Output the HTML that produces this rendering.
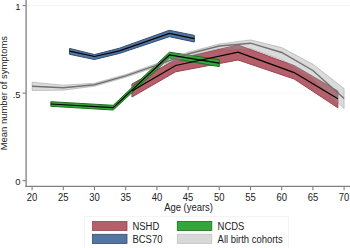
<!DOCTYPE html>
<html><head><meta charset="utf-8"><style>
html,body{margin:0;padding:0;background:#fff;}
svg{display:block;}
.t{font-family:"Liberation Sans",sans-serif;font-size:9.45px;fill:#222;}
</style></head><body>
<svg width="350" height="248" viewBox="0 0 350 248">
<line x1="26.5" y1="93.10" x2="350" y2="93.10" stroke="#fafafa" stroke-width="1"/>
<line x1="26.5" y1="5.60" x2="350" y2="5.60" stroke="#f6f6f6" stroke-width="1"/>
<polygon points="131.94,84.00 175.62,59.50 238.02,45.00 294.18,65.60 337.86,91.00 337.86,107.80 294.18,79.00 238.02,60.00 175.62,71.80 131.94,97.00" fill="#b45f6a" fill-opacity="1.0" stroke="#974450" stroke-opacity="1.0" stroke-width="1.0" stroke-linejoin="miter"/>
<polygon points="50.82,101.70 113.22,105.30 169.38,52.20 219.30,59.70 219.30,66.60 169.38,58.00 113.22,110.00 50.82,106.30" fill="#36a53a" fill-opacity="1.0" stroke="#1c6e20" stroke-opacity="1.0" stroke-width="1.0" stroke-linejoin="miter"/>
<polygon points="69.54,48.40 94.50,54.60 119.46,48.20 169.38,30.30 194.34,35.40 194.34,42.00 169.38,36.70 119.46,53.40 94.50,59.50 69.54,54.30" fill="#52769f" fill-opacity="1.0" stroke="#304d72" stroke-opacity="1.0" stroke-width="1.0" stroke-linejoin="miter"/>
<polygon points="32.10,82.20 63.30,85.20 94.50,83.20 125.70,74.50 156.90,63.60 188.10,52.20 219.30,44.00 250.50,39.90 281.70,47.60 312.90,64.20 344.10,88.60 344.10,108.60 312.90,78.50 281.70,59.50 250.50,48.70 219.30,48.70 188.10,56.50 156.90,66.60 125.70,77.30 94.50,86.20 63.30,90.20 32.10,90.50" fill="#9a9a9a" fill-opacity="0.36" stroke="#8a8a8a" stroke-opacity="0.55" stroke-width="0.8" stroke-linejoin="miter"/>
<polyline points="131.94,91.00 175.62,65.50 238.02,52.10 294.18,72.60 337.86,98.80" fill="none" stroke="#000" stroke-width="1.2" stroke-linejoin="miter"/>
<polyline points="32.10,86.30 63.30,87.80 94.50,84.70 125.70,75.90 156.90,65.10 188.10,54.00 219.30,46.00 250.50,43.20 281.70,52.50 312.90,70.50 344.10,98.60" fill="none" stroke="#727272" stroke-width="1.4" stroke-linejoin="miter"/>
<polyline points="69.54,51.20 94.50,56.50 119.46,50.80 169.38,33.40 194.34,38.60" fill="none" stroke="#000" stroke-width="1.2" stroke-linejoin="miter"/>
<polyline points="50.82,104.00 113.22,107.60 169.38,55.00 219.30,63.20" fill="none" stroke="#000" stroke-width="1.2" stroke-linejoin="miter"/>
<line x1="26.1" y1="0" x2="26.1" y2="187.05" stroke="#808080" stroke-width="1.3"/>
<line x1="25.45" y1="186.4" x2="350" y2="186.4" stroke="#808080" stroke-width="1.3"/>
<line x1="22.5" y1="180.60" x2="26" y2="180.60" stroke="#808080" stroke-width="1.1"/>
<text transform="translate(20.60,185.30) scale(1,1.04)" text-anchor="end" class="t">0</text>
<line x1="22.5" y1="93.10" x2="26" y2="93.10" stroke="#808080" stroke-width="1.1"/>
<text transform="translate(20.60,97.80) scale(1,1.04)" text-anchor="end" class="t">.5</text>
<line x1="22.5" y1="5.60" x2="26" y2="5.60" stroke="#808080" stroke-width="1.1"/>
<text transform="translate(20.60,10.30) scale(1,1.04)" text-anchor="end" class="t">1</text>
<line x1="32.10" y1="186.5" x2="32.10" y2="190.3" stroke="#808080" stroke-width="1.1"/>
<text transform="translate(32.10,201.30) scale(1,1.08)" text-anchor="middle" class="t">20</text>
<line x1="63.30" y1="186.5" x2="63.30" y2="190.3" stroke="#808080" stroke-width="1.1"/>
<text transform="translate(63.30,201.30) scale(1,1.08)" text-anchor="middle" class="t">25</text>
<line x1="94.50" y1="186.5" x2="94.50" y2="190.3" stroke="#808080" stroke-width="1.1"/>
<text transform="translate(94.50,201.30) scale(1,1.08)" text-anchor="middle" class="t">30</text>
<line x1="125.70" y1="186.5" x2="125.70" y2="190.3" stroke="#808080" stroke-width="1.1"/>
<text transform="translate(125.70,201.30) scale(1,1.08)" text-anchor="middle" class="t">35</text>
<line x1="156.90" y1="186.5" x2="156.90" y2="190.3" stroke="#808080" stroke-width="1.1"/>
<text transform="translate(156.90,201.30) scale(1,1.08)" text-anchor="middle" class="t">40</text>
<line x1="188.10" y1="186.5" x2="188.10" y2="190.3" stroke="#808080" stroke-width="1.1"/>
<text transform="translate(188.10,201.30) scale(1,1.08)" text-anchor="middle" class="t">45</text>
<line x1="219.30" y1="186.5" x2="219.30" y2="190.3" stroke="#808080" stroke-width="1.1"/>
<text transform="translate(219.30,201.30) scale(1,1.08)" text-anchor="middle" class="t">50</text>
<line x1="250.50" y1="186.5" x2="250.50" y2="190.3" stroke="#808080" stroke-width="1.1"/>
<text transform="translate(250.50,201.30) scale(1,1.08)" text-anchor="middle" class="t">55</text>
<line x1="281.70" y1="186.5" x2="281.70" y2="190.3" stroke="#808080" stroke-width="1.1"/>
<text transform="translate(281.70,201.30) scale(1,1.08)" text-anchor="middle" class="t">60</text>
<line x1="312.90" y1="186.5" x2="312.90" y2="190.3" stroke="#808080" stroke-width="1.1"/>
<text transform="translate(312.90,201.30) scale(1,1.08)" text-anchor="middle" class="t">65</text>
<line x1="344.10" y1="186.5" x2="344.10" y2="190.3" stroke="#808080" stroke-width="1.1"/>
<text transform="translate(344.10,201.30) scale(1,1.08)" text-anchor="middle" class="t">70</text>
<text transform="translate(188.50,210.80) scale(1,1.12)" text-anchor="middle" class="t">Age (years)</text>
<text transform="translate(7.10,93.10) rotate(-90)" text-anchor="middle" class="t">Mean number of symptoms</text>
<rect x="84.5" y="216.5" width="204" height="40" fill="none" stroke="#f4f4f4" stroke-width="1"/>
<rect x="92.5" y="221.4" width="34.5" height="9.2" fill="#b45f6a" stroke="#974450" stroke-width="0.8"/>
<rect x="92.5" y="234.3" width="34.5" height="9.2" fill="#52769f" stroke="#304d72" stroke-width="0.8"/>
<rect x="177.3" y="221.4" width="34.5" height="9.2" fill="#36a53a" stroke="#1c6e20" stroke-width="0.8"/>
<rect x="177.3" y="234.3" width="34.5" height="9.2" fill="#d8d8d8" stroke="#c2c2c2" stroke-width="0.8"/>
<text transform="translate(132.50,229.70) scale(1,1.12)" class="t">NSHD</text>
<text transform="translate(132.50,242.70) scale(1,1.12)" class="t">BCS70</text>
<text transform="translate(217.60,229.70) scale(1,1.12)" class="t">NCDS</text>
<text transform="translate(217.60,242.70) scale(1,1.12)" class="t">All birth cohorts</text>
</svg>
</body></html>
